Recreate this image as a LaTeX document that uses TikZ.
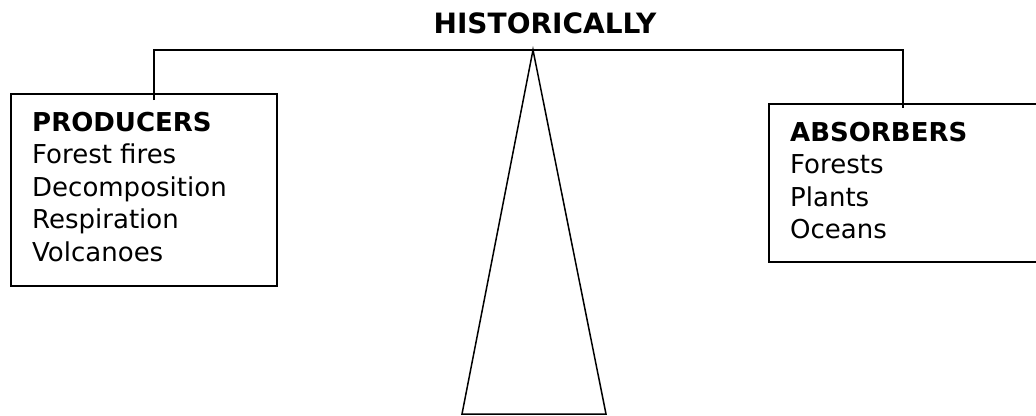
\documentclass[tikz,border=0pt]{standalone}
\usepackage{fontspec}
\setmainfont{DejaVu Sans}
\begin{document}
\begin{tikzpicture}[x=1pt,y=-1pt,
  box/.style={draw,line width=1.6pt,inner sep=0pt,anchor=north west},
  label/.style={anchor=north west,inner sep=0pt,align=left,font=\fontsize{26}{32.4}\selectfont},
  beam/.style={draw,line width=1.5pt}]
\useasboundingbox (0,0) rectangle (1036,415);
\node[box,minimum width=266pt,minimum height=192pt] (prod) at (10,93) {};
\node[box,minimum width=268pt,minimum height=158pt] (abs) at (768,103) {};
\node[label] (prodtext) at (32,112) {\textbf{PRODUCERS}\\Forest fires\\Decomposition\\Respiration\\Volcanoes};
\node[label] (abstext) at (790,122) {\textbf{ABSORBERS}\\Forests\\Plants\\Oceans};
\node[anchor=base,inner sep=0pt,font=\fontsize{28}{34}\selectfont\bfseries] (title) at (545,33) {HISTORICALLY};
\coordinate (pivot) at (533,50);
\coordinate (lhang) at (154,100);
\coordinate (rhang) at (903,108);
\coordinate (bl) at (462,414);
\coordinate (br) at (606,414);
\draw[beam] (lhang) |- (pivot) -| (rhang);
\draw[beam,line join=miter] (pivot) -- (bl) -- (br) -- cycle;
\end{tikzpicture}
\end{document}
